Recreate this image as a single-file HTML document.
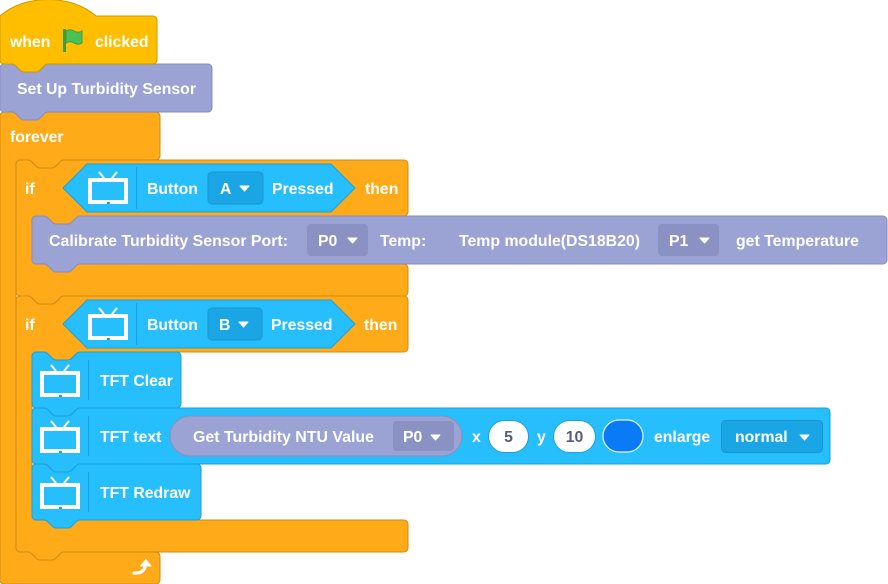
<!DOCTYPE html>
<html><head><meta charset="utf-8"><style>
html,body{margin:0;padding:0;background:#fff;}
svg{display:block;}
text{font-family:"Liberation Sans",Arial,sans-serif;font-weight:bold;font-size:15.8px;fill:#fff;}
.g{fill:#575E75;}
</style></head><body>
<svg width="888" height="584" viewBox="0 0 888 584" xmlns="http://www.w3.org/2000/svg">
<!-- forever -->
<path fill="#FFAB19" stroke="#CF8B17" stroke-width="1" d="M 0,116 a4,4 0 0 1 4,-4 H 12 c 2,0 3,1 4,2 l 4,4 c 1,1 2,2 4,2 h 12 c 2,0 3,-1 4,-2 l 4,-4 c 1,-1 2,-2 4,-2 H 156 a4,4 0 0 1 4,4 V 156 a4,4 0 0 1 -4,4 H 64 c -2,0 -3,1 -4,2 l -4,4 c -1,1 -2,2 -4,2 h -12 c -2,0 -3,-1 -4,-2 l -4,-4 c -1,-1 -2,-2 -4,-2 H 20 a4,4 0 0 0 -4,4 V 548 a4,4 0 0 0 4,4 H 156 a4,4 0 0 1 4,4 V 580 a4,4 0 0 1 -4,4 H 4 a4,4 0 0 1 -4,-4 Z"/>
<!-- if A -->
<path fill="#FFAB19" stroke="#CF8B17" stroke-width="1" d="M 16,164 a4,4 0 0 1 4,-4 H 28 c 2,0 3,1 4,2 l 4,4 c 1,1 2,2 4,2 h 12 c 2,0 3,-1 4,-2 l 4,-4 c 1,-1 2,-2 4,-2 H 404 a4,4 0 0 1 4,4 V 212 a4,4 0 0 1 -4,4 H 80 c -2,0 -3,1 -4,2 l -4,4 c -1,1 -2,2 -4,2 h -12 c -2,0 -3,-1 -4,-2 l -4,-4 c -1,-1 -2,-2 -4,-2 H 36 a4,4 0 0 0 -4,4 V 260 a4,4 0 0 0 4,4 H 404 a4,4 0 0 1 4,4 V 292 a4,4 0 0 1 -4,4 H 64 c -2,0 -3,1 -4,2 l -4,4 c -1,1 -2,2 -4,2 h -12 c -2,0 -3,-1 -4,-2 l -4,-4 c -1,-1 -2,-2 -4,-2 H 20 a4,4 0 0 1 -4,-4 Z"/>
<!-- if B -->
<path fill="#FFAB19" stroke="#CF8B17" stroke-width="1" d="M 16,300 a4,4 0 0 1 4,-4 H 28 c 2,0 3,1 4,2 l 4,4 c 1,1 2,2 4,2 h 12 c 2,0 3,-1 4,-2 l 4,-4 c 1,-1 2,-2 4,-2 H 404 a4,4 0 0 1 4,4 V 348 a4,4 0 0 1 -4,4 H 80 c -2,0 -3,1 -4,2 l -4,4 c -1,1 -2,2 -4,2 h -12 c -2,0 -3,-1 -4,-2 l -4,-4 c -1,-1 -2,-2 -4,-2 H 36 a4,4 0 0 0 -4,4 V 516 a4,4 0 0 0 4,4 H 404 a4,4 0 0 1 4,4 V 548 a4,4 0 0 1 -4,4 H 64 c -2,0 -3,1 -4,2 l -4,4 c -1,1 -2,2 -4,2 h -12 c -2,0 -3,-1 -4,-2 l -4,-4 c -1,-1 -2,-2 -4,-2 H 20 a4,4 0 0 1 -4,-4 Z"/>
<!-- calibrate -->
<path fill="#9AA3D3" stroke="#858EC2" stroke-width="1" d="M 32,220 a4,4 0 0 1 4,-4 H 44 c 2,0 3,1 4,2 l 4,4 c 1,1 2,2 4,2 h 12 c 2,0 3,-1 4,-2 l 4,-4 c 1,-1 2,-2 4,-2 H 883 a4,4 0 0 1 4,4 V 260 a4,4 0 0 1 -4,4 H 80 c -2,0 -3,1 -4,2 l -4,4 c -1,1 -2,2 -4,2 h -12 c -2,0 -3,-1 -4,-2 l -4,-4 c -1,-1 -2,-2 -4,-2 H 36 a4,4 0 0 1 -4,-4 Z"/>
<!-- TFT Clear -->
<path fill="#27BEFD" stroke="#1E9FD9" stroke-width="1" d="M 32,356 a4,4 0 0 1 4,-4 H 44 c 2,0 3,1 4,2 l 4,4 c 1,1 2,2 4,2 h 12 c 2,0 3,-1 4,-2 l 4,-4 c 1,-1 2,-2 4,-2 H 177 a4,4 0 0 1 4,4 V 404 a4,4 0 0 1 -4,4 H 80 c -2,0 -3,1 -4,2 l -4,4 c -1,1 -2,2 -4,2 h -12 c -2,0 -3,-1 -4,-2 l -4,-4 c -1,-1 -2,-2 -4,-2 H 36 a4,4 0 0 1 -4,-4 Z"/>
<!-- TFT text -->
<path fill="#27BEFD" stroke="#1E9FD9" stroke-width="1" d="M 32,412 a4,4 0 0 1 4,-4 H 44 c 2,0 3,1 4,2 l 4,4 c 1,1 2,2 4,2 h 12 c 2,0 3,-1 4,-2 l 4,-4 c 1,-1 2,-2 4,-2 H 826 a4,4 0 0 1 4,4 V 460 a4,4 0 0 1 -4,4 H 80 c -2,0 -3,1 -4,2 l -4,4 c -1,1 -2,2 -4,2 h -12 c -2,0 -3,-1 -4,-2 l -4,-4 c -1,-1 -2,-2 -4,-2 H 36 a4,4 0 0 1 -4,-4 Z"/>
<!-- TFT Redraw -->
<path fill="#27BEFD" stroke="#1E9FD9" stroke-width="1" d="M 32,468 a4,4 0 0 1 4,-4 H 44 c 2,0 3,1 4,2 l 4,4 c 1,1 2,2 4,2 h 12 c 2,0 3,-1 4,-2 l 4,-4 c 1,-1 2,-2 4,-2 H 197 a4,4 0 0 1 4,4 V 516 a4,4 0 0 1 -4,4 H 80 c -2,0 -3,1 -4,2 l -4,4 c -1,1 -2,2 -4,2 h -12 c -2,0 -3,-1 -4,-2 l -4,-4 c -1,-1 -2,-2 -4,-2 H 36 a4,4 0 0 1 -4,-4 Z"/>
<!-- Set Up -->
<path fill="#9AA3D3" stroke="#858EC2" stroke-width="1" d="M 0,68 a4,4 0 0 1 4,-4 H 12 c 2,0 3,1 4,2 l 4,4 c 1,1 2,2 4,2 h 12 c 2,0 3,-1 4,-2 l 4,-4 c 1,-1 2,-2 4,-2 H 208 a4,4 0 0 1 4,4 V 108 a4,4 0 0 1 -4,4 H 48 c -2,0 -3,1 -4,2 l -4,4 c -1,1 -2,2 -4,2 h -12 c -2,0 -3,-1 -4,-2 l -4,-4 c -1,-1 -2,-2 -4,-2 H 4 a4,4 0 0 1 -4,-4 Z"/>
<!-- hat -->
<path fill="#FFBF00" stroke="#CC9900" stroke-width="1" d="M 0,16 c 25,-22 71,-22 96,0 H 153 a4,4 0 0 1 4,4 V 60 a4,4 0 0 1 -4,4 H 48 c -2,0 -3,1 -4,2 l -4,4 c -1,1 -2,2 -4,2 h -12 c -2,0 -3,-1 -4,-2 l -4,-4 c -1,-1 -2,-2 -4,-2 H 4 a4,4 0 0 1 -4,-4 Z"/>

<!-- hat content -->
<text x="10" y="47">when</text>
<rect x="63" y="29" width="3" height="23" fill="#45993D"/>
<path d="M 66,31 q 4,-2.5 8,0 q 4,2.5 8,0 v 12 q -4,2.5 -8,0 q -4,-2.5 -8,0 z" fill="#4CBF56" stroke="#45993D" stroke-width="1"/>
<text x="95" y="47">clicked</text>

<text x="17" y="94" textLength="179" lengthAdjust="spacingAndGlyphs">Set Up Turbidity Sensor</text>
<text x="10" y="142">forever</text>

<!-- if A row -->
<text x="25" y="194">if</text>
<path d="M 63,188 L 87,164 H 331 L 355,188 L 331,212 H 87 Z" fill="#27BEFD" stroke="#1E9FD9" stroke-width="1"/>
<g fill="none" stroke="#fff" stroke-width="2"><line x1="99" y1="172" x2="104" y2="178"/><line x1="117" y1="172" x2="112" y2="178"/></g>
<rect x="90" y="180" width="36" height="22" fill="none" stroke="#fff" stroke-width="4"/>
<rect x="107" y="202" width="3" height="2" fill="#1E9FD9"/>
<line x1="136.5" y1="167" x2="136.5" y2="209" stroke="#1E9FD9" stroke-width="1"/>
<text x="147" y="194">Button</text>
<rect x="208" y="172" width="55" height="32" rx="4" fill="#1AA6E4" stroke="#1996CE" stroke-width="1"/>
<text x="220" y="194">A</text>
<polygon points="240,186 249,186 244.5,191" fill="#fff" stroke="#fff" stroke-width="1" stroke-linejoin="round"/>
<text x="272" y="194">Pressed</text>
<text x="365" y="194">then</text>

<!-- calibrate row -->
<text x="49" y="246" textLength="239" lengthAdjust="spacingAndGlyphs">Calibrate Turbidity Sensor Port:</text>
<rect x="307" y="224" width="61" height="32" rx="4" fill="#8A92C3"/>
<text x="318" y="246">P0</text>
<polygon points="348,238 357,238 352.5,243" fill="#fff" stroke="#fff" stroke-width="1" stroke-linejoin="round"/>
<text x="380" y="246">Temp:</text>
<text x="459" y="246" textLength="181" lengthAdjust="spacingAndGlyphs">Temp module(DS18B20)</text>
<rect x="658" y="224" width="61" height="32" rx="4" fill="#8A92C3"/>
<text x="669" y="246">P1</text>
<polygon points="700,238 709,238 704.5,243" fill="#fff" stroke="#fff" stroke-width="1" stroke-linejoin="round"/>
<text x="736" y="246" textLength="123" lengthAdjust="spacingAndGlyphs">get Temperature</text>

<!-- if B row -->
<text x="25" y="330">if</text>
<path d="M 63,324 L 87,300 H 331 L 355,324 L 331,348 H 87 Z" fill="#27BEFD" stroke="#1E9FD9" stroke-width="1"/>
<g fill="none" stroke="#fff" stroke-width="2"><line x1="99" y1="308" x2="104" y2="314"/><line x1="117" y1="308" x2="112" y2="314"/></g>
<rect x="90" y="316" width="36" height="22" fill="none" stroke="#fff" stroke-width="4"/>
<rect x="107" y="338" width="3" height="2" fill="#1E9FD9"/>
<line x1="136.5" y1="303" x2="136.5" y2="345" stroke="#1E9FD9" stroke-width="1"/>
<text x="147" y="330">Button</text>
<rect x="208" y="308" width="54" height="32" rx="4" fill="#1AA6E4" stroke="#1996CE" stroke-width="1"/>
<text x="219" y="330">B</text>
<polygon points="239,322 248,322 243.5,327" fill="#fff" stroke="#fff" stroke-width="1" stroke-linejoin="round"/>
<text x="271" y="330">Pressed</text>
<text x="364" y="330">then</text>

<!-- TFT Clear -->
<g fill="none" stroke="#fff" stroke-width="2"><line x1="51" y1="365" x2="56" y2="371"/><line x1="69" y1="365" x2="64" y2="371"/></g>
<rect x="42" y="373" width="36" height="22" fill="none" stroke="#fff" stroke-width="4"/>
<rect x="59" y="395" width="3" height="2" fill="#1E9FD9"/>
<line x1="88.5" y1="360" x2="88.5" y2="400" stroke="#1E9FD9" stroke-width="1"/>
<text x="100" y="386">TFT Clear</text>

<!-- TFT text -->
<g fill="none" stroke="#fff" stroke-width="2"><line x1="51" y1="421" x2="56" y2="427"/><line x1="69" y1="421" x2="64" y2="427"/></g>
<rect x="42" y="429" width="36" height="22" fill="none" stroke="#fff" stroke-width="4"/>
<rect x="59" y="451" width="3" height="2" fill="#1E9FD9"/>
<line x1="88.5" y1="416" x2="88.5" y2="456" stroke="#1E9FD9" stroke-width="1"/>
<text x="100" y="442">TFT text</text>
<rect x="170" y="416" width="292" height="40" rx="20" fill="#9AA3D3" stroke="#858EC2" stroke-width="1"/>
<text x="193" y="442" textLength="181" lengthAdjust="spacingAndGlyphs">Get Turbidity NTU Value</text>
<rect x="393" y="421" width="61" height="30" rx="4" fill="#8A92C3"/>
<text x="403" y="442">P0</text>
<polygon points="431,435 440,435 435.5,440" fill="#fff" stroke="#fff" stroke-width="1" stroke-linejoin="round"/>
<text x="472" y="442">x</text>
<rect x="488.5" y="420.5" width="40" height="32" rx="16" fill="#fff" stroke="#1E9FD9" stroke-width="1"/>
<text x="508.5" y="442" class="g" text-anchor="middle">5</text>
<text x="537" y="442">y</text>
<rect x="553.5" y="420.5" width="42" height="32" rx="16" fill="#fff" stroke="#1E9FD9" stroke-width="1"/>
<text x="574.5" y="442" class="g" text-anchor="middle">10</text>
<rect x="603" y="420" width="40" height="32" rx="16" fill="#0A7BF7" stroke="#E6F4FF" stroke-width="1.2"/>
<text x="654" y="442">enlarge</text>
<rect x="721.5" y="420.5" width="101" height="32" rx="4" fill="#1AA6E4" stroke="#1996CE" stroke-width="1"/>
<text x="735" y="442">normal</text>
<polygon points="800,435 809,435 804.5,440" fill="#fff" stroke="#fff" stroke-width="1" stroke-linejoin="round"/>

<!-- TFT Redraw -->
<g fill="none" stroke="#fff" stroke-width="2"><line x1="51" y1="477" x2="56" y2="483"/><line x1="69" y1="477" x2="64" y2="483"/></g>
<rect x="42" y="485" width="36" height="22" fill="none" stroke="#fff" stroke-width="4"/>
<rect x="59" y="507" width="3" height="2" fill="#1E9FD9"/>
<line x1="88.5" y1="472" x2="88.5" y2="512" stroke="#1E9FD9" stroke-width="1"/>
<text x="100" y="498">TFT Redraw</text>

<!-- forever arrow -->
<path d="M 134,573 Q 144,574 145.5,565" fill="none" stroke="#fff" stroke-width="3.2" stroke-linecap="round"/>
<polygon points="140.5,566 151,566 146,559.5" fill="#fff" stroke="#fff" stroke-width="1" stroke-linejoin="round"/>
</svg>
</body></html>
